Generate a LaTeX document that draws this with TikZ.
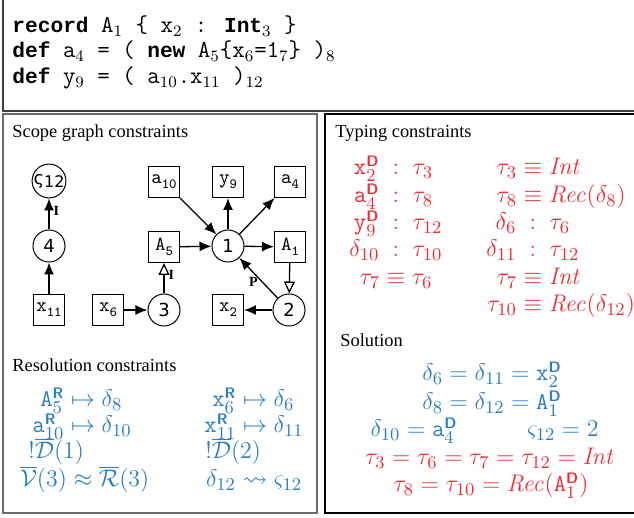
\documentclass[tikz,border=0pt]{standalone}
\usepackage{amsmath}
\usepackage{amssymb}
\usepackage[no-math]{fontspec}
\setmainfont{Liberation Serif}
\newfontfamily\codefont{Latin Modern Mono}[BoldFont={Liberation Mono Bold}, BoldFeatures={Scale=0.876}]
\newfontfamily\dejavu{DejaVu Sans}
\usetikzlibrary{arrows.meta, positioning}
\definecolor{resBlue}{HTML}{2A7DC6}
\definecolor{typeRed}{HTML}{EE2D36}
\definecolor{frameGray}{HTML}{6A6A6A}
% superscripts for declarations and references
\newcommand{\sD}{^{\text{\sffamily\bfseries\fontsize{7.6}{7.6}\selectfont D}}}
\newcommand{\sR}{^{\text{\sffamily\bfseries\fontsize{7.6}{7.6}\selectfont R}}}
% a row aligned on its relation symbol
\newcommand{\relrow}[3]{\llap{$#1$}$#2$\rlap{$#3$}}
\newcommand{\codesub}[1]{$_{#1}$}
\newcommand{\boxsub}[1]{\raisebox{-2.5pt}{\fontsize{7}{7}\selectfont #1}}
\tikzset{
    heading/.style={anchor=base west, inner sep=0pt, font=\fontsize{9.2}{11}\selectfont},
    codeline/.style={anchor=base west, inner sep=0pt, font=\codefont\fontsize{12.1}{13}\selectfont},
    declbox/.style={draw, line width=0.5pt, minimum size=15.5pt, inner sep=0pt, font=\codefont\fontsize{10}{10}\selectfont},
    scopenode/.style={draw, circle, line width=0.5pt, minimum size=16pt, inner sep=0pt, font=\dejavu\fontsize{9}{9}\selectfont},
    edge/.style={-{Latex[length=6pt,width=5pt]}, line width=0.65pt},
    impedge/.style={-{Triangle[open,length=6pt,width=5.5pt]}, line width=0.65pt},
    elab/.style={font=\bfseries\fontsize{7}{7}\selectfont, inner sep=2pt},
    resline/.style={text=resBlue, anchor=base, inner sep=0pt, font=\fontsize{12.4}{14}\selectfont},
    typline/.style={text=typeRed, anchor=base, inner sep=0pt, font=\fontsize{12.4}{14}\selectfont},
}

\begin{document}
\begin{tikzpicture}[x=0.5pt, y=-0.5pt]
    \useasboundingbox (0,0) rectangle (634,518);

    % Frames
    \draw[black!75, line width=0.9pt] (3,-20) rectangle (700,111);
    \draw[frameGray, line width=1pt] (3,114) rectangle (317,513);
    \draw[black, line width=0.7pt] (325,114) rectangle (700,513);

    % Program
    \node[codeline] (code1) at (12,33) {\textbf{record} A\codesub{1} \{ x\codesub{2} : \textbf{Int}\codesub{3} \}};
    \node[codeline] (code2) at (12,58) {\textbf{def} a\codesub{4} = ( \textbf{new} A\codesub{5}\{x\codesub{6}=1\codesub{7}\} )\codesub{8}};
    \node[codeline] (code3) at (12,84) {\textbf{def} y\codesub{9} = ( a\codesub{10}.x\codesub{11} )\codesub{12}};

    % Scope graph
    \node[heading] (hScope) at (12,138) {Scope graph constraints};
    \node[scopenode] (s12) at (49,181) {ς\raisebox{-1.5pt}{\fontsize{8}{8}\selectfont 12}};
    \node[scopenode] (n4) at (49,246) {4};
    \node[declbox] (x11) at (49,310) {x\boxsub{11}};
    \node[declbox] (x6) at (108,310) {x\boxsub{6}};
    \node[scopenode] (n3) at (164,310) {3};
    \node[declbox] (A5) at (164,247) {A\boxsub{5}};
    \node[declbox] (a10) at (164,182) {a\boxsub{10}};
    \node[scopenode] (n1) at (228,246) {1};
    \node[declbox] (y9) at (228,182) {y\boxsub{9}};
    \node[declbox] (a4) at (290,182) {a\boxsub{4}};
    \node[declbox] (A1) at (290,247) {A\boxsub{1}};
    \node[scopenode] (n2) at (289,310) {2};
    \node[declbox] (x2) at (228,310) {x\boxsub{2}};

    \draw[edge] (x11) -- (n4);
    \draw[edge] (n4) -- node[elab, right, pos=0.6] {I} (s12);
    \draw[edge] (x6) -- (n3);
    \draw[impedge] (n3) -- node[elab, right, pos=0.6] {I} (A5);
    \draw[edge] (A5) -- (n1);
    \draw[edge] (a10) -- (n1);
    \draw[edge] (n1) -- (y9);
    \draw[edge] (n1) -- (a4);
    \draw[edge] (n1) -- (A1);
    \draw[impedge] (A1) -- (n2);
    \draw[edge] (n2) -- node[elab, left, pos=0.4] {P} (n1);
    \draw[edge] (n2) -- (x2);

    % Resolution constraints
    \node[heading] (hRes) at (12,372) {Resolution constraints};
    \node[resline] (res1) at (83,407) {\relrow{\mathtt{A}_5\sR}{\;\mapsto\;}{\delta_8}};
    \node[resline] (res2) at (83,433) {\relrow{\mathtt{a}_{10}\sR}{\;\mapsto\;}{\delta_{10}}};
    \node[resline, anchor=base west] (res3) at (28,459) {$!\overline{\mathcal{D}}(1)$};
    \node[resline] (res4) at (83,487) {\relrow{\overline{\mathcal{V}}(3)}{\;\approx\;}{\overline{\mathcal{R}}(3)}};
    \node[resline] (res5) at (255,407) {\relrow{\mathtt{x}_6\sR}{\;\mapsto\;}{\delta_6}};
    \node[resline] (res6) at (255,433) {\relrow{\mathtt{x}_{11}\sR}{\;\mapsto\;}{\delta_{11}}};
    \node[resline, anchor=base west] (res7) at (205,459) {$!\overline{\mathcal{D}}(2)$};
    \node[resline] (res8) at (255,487) {\relrow{\delta_{12}}{\;\rightsquigarrow\;}{\varsigma_{12}}};

    % Typing constraints
    \node[heading] (hTyping) at (335,138) {Typing constraints};
    \node[typline] (typ1) at (396,175) {\relrow{\mathtt{x}_2\sD}{\;\;:\;\;}{\tau_3}};
    \node[typline] (typ2) at (396,203) {\relrow{\mathtt{a}_4\sD}{\;\;:\;\;}{\tau_8}};
    \node[typline] (typ3) at (396,230) {\relrow{\mathtt{y}_9\sD}{\;\;:\;\;}{\tau_{12}}};
    \node[typline] (typ4) at (396,257) {\relrow{\delta_{10}}{\;\;:\;\;}{\tau_{10}}};
    \node[typline] (typ5) at (396,285) {\relrow{\tau_7}{\;\equiv\;}{\tau_6}};
    \node[typline] (typ6) at (533,175) {\relrow{\tau_3}{\;\equiv\;}{\mathit{Int}}};
    \node[typline] (typ7) at (533,203) {\relrow{\tau_8}{\;\equiv\;}{\mathit{Rec}(\delta_8)}};
    \node[typline] (typ8) at (533,230) {\relrow{\delta_6}{\;\;:\;\;}{\tau_6}};
    \node[typline] (typ9) at (533,257) {\relrow{\delta_{11}}{\;\;:\;\;}{\tau_{12}}};
    \node[typline] (typ10) at (533,285) {\relrow{\tau_7}{\;\equiv\;}{\mathit{Int}}};
    \node[typline] (typ11) at (533,312) {\relrow{\tau_{10}}{\;\equiv\;}{\mathit{Rec}(\delta_{12})}};

    % Solution
    \node[heading] (hSol) at (340,347) {Solution};
    \node[resline] (sol1) at (492,381) {$\delta_6 = \delta_{11} = \mathtt{x}_2\sD$};
    \node[resline] (sol2) at (492,410) {$\delta_8 = \delta_{12} = \mathtt{A}_1\sD$};
    \node[resline] (sol3) at (414,437) {$\delta_{10} = \mathtt{a}_4\sD$};
    \node[resline] (sol4) at (563,437) {$\varsigma_{12} = 2$};
    \node[typline] (sol5) at (490,465) {$\tau_3 = \tau_6 = \tau_7 = \tau_{12} = \mathit{Int}$};
    \node[typline] (sol6) at (491,492) {$\tau_8 = \tau_{10} = \mathit{Rec}(\mathtt{A}_1\sD)$};
\end{tikzpicture}
\end{document}
